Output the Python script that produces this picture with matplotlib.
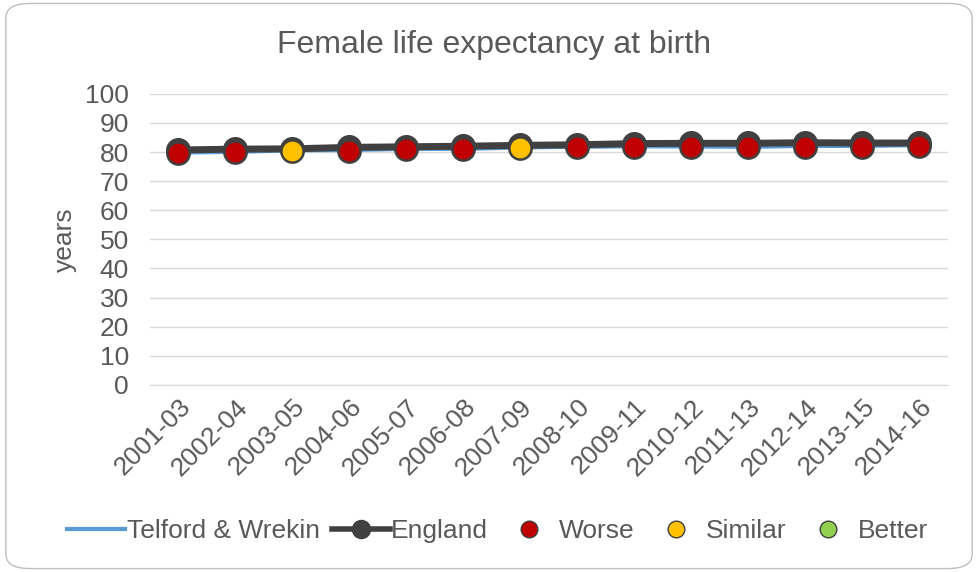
import matplotlib.pyplot as plt
from matplotlib.patches import FancyBboxPatch
from matplotlib.lines import Line2D

plt.rcParams['font.family'] = ['Liberation Sans', 'DejaVu Sans']

periods = ["2001-03", "2002-04", "2003-05", "2004-06", "2005-07", "2006-08", "2007-09",
           "2008-10", "2009-11", "2010-12", "2011-13", "2012-14", "2013-15", "2014-16"]
telford = [79.6, 79.9, 80.4, 80.5, 80.9, 80.9, 81.4, 81.6, 81.8, 81.7, 81.6, 81.9, 81.9, 82.2]
england = [80.7, 81.0, 81.1, 81.6, 81.8, 82.0, 82.3, 82.5, 82.9, 83.0, 83.0, 83.2, 83.1, 83.1]
status = ["Worse", "Worse", "Similar", "Worse", "Worse", "Worse", "Similar",
          "Worse", "Worse", "Worse", "Worse", "Worse", "Worse", "Worse"]

status_colors = {"Worse": "#C00000", "Similar": "#FFC000", "Better": "#92D050"}
text_color = "#595959"
fs = 19

fig = plt.figure(figsize=(9.78, 5.72), dpi=100)
border = FancyBboxPatch((0.006, 0.006), 0.988, 0.988, boxstyle="round,pad=0,rounding_size=0.025",
                        transform=fig.transFigure, facecolor="white", edgecolor="#bfbfbf",
                        linewidth=1, zorder=-10)
fig.patches.append(border)

ax = fig.add_axes([0.153, 0.327, 0.816, 0.509])
ax.patch.set_alpha(0)
x = range(len(periods))

ax.plot(x, telford, color="#5B9BD5", linewidth=2.2, zorder=3)
ax.plot(x, england, color="#404040", linewidth=5, marker="o", markersize=17,
        markerfacecolor="#404040", markeredgecolor="#404040", zorder=4)
for i, s in enumerate(status):
    ax.plot(i, telford[i], marker="o", markersize=16, markerfacecolor=status_colors[s],
            markeredgecolor="#404040", markeredgewidth=1.8, linestyle="none", zorder=5)

ax.set_xlim(-0.5, len(periods) - 0.5)
ax.set_ylim(0, 100)
ax.set_yticks(range(0, 101, 10))
ax.set_xticks(list(x))
ax.set_xticklabels(periods, rotation=45, ha="right", rotation_mode="anchor")
ax.tick_params(axis="y", length=0, labelsize=fs, labelcolor=text_color, pad=15)
ax.tick_params(axis="x", length=0, labelsize=fs, labelcolor=text_color, pad=7)
ax.grid(axis="y", color="#d9d9d9", linewidth=1)
ax.set_axisbelow(True)
for side in ["top", "right", "left"]:
    ax.spines[side].set_visible(False)
ax.spines["bottom"].set_color("#d9d9d9")
ax.set_ylabel("years", fontsize=fs, color=text_color, labelpad=6)

fig.text(0.505, 0.922, "Female life expectancy at birth", ha="center", va="center",
         fontsize=23, color=text_color)

handles = [
    Line2D([], [], color="#5B9BD5", linewidth=3),
    Line2D([], [], color="#404040", linewidth=4, marker="o", markersize=13),
    Line2D([], [], linestyle="none", marker="o", markersize=12, markerfacecolor=status_colors["Worse"], markeredgecolor="#404040"),
    Line2D([], [], linestyle="none", marker="o", markersize=12, markerfacecolor=status_colors["Similar"], markeredgecolor="#404040"),
    Line2D([], [], linestyle="none", marker="o", markersize=12, markerfacecolor=status_colors["Better"], markeredgecolor="#404040"),
]
labels = ["Telford & Wrekin", "England", "Worse", "Similar", "Better"]
fig.legend(handles, labels, loc="center", bbox_to_anchor=(0.509, 0.072), ncol=5, frameon=False,
           fontsize=fs, labelcolor=text_color, handlelength=2.2, handletextpad=0.05, columnspacing=0.45)

fig.savefig("out.png", dpi=100)
